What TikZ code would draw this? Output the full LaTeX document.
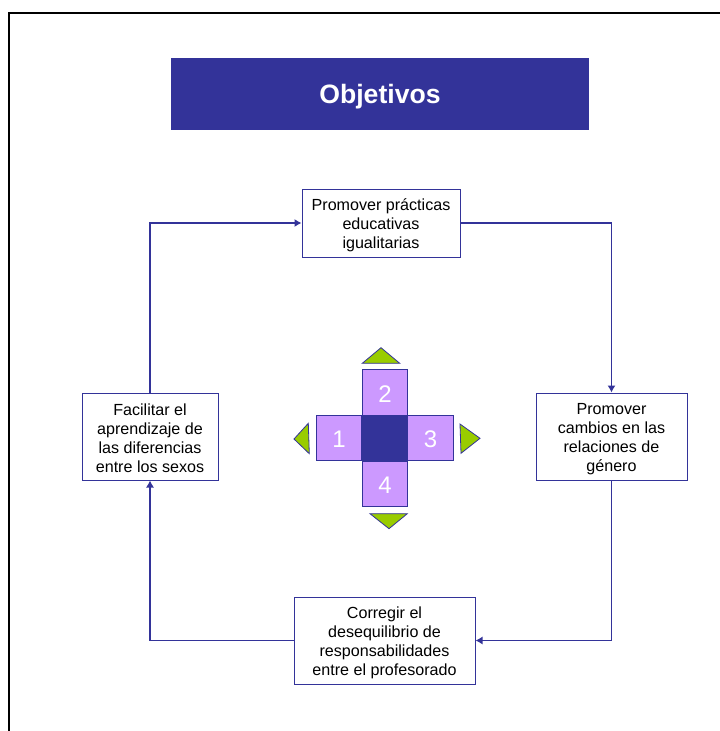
\documentclass[tikz,border=0pt]{standalone}
\usepackage{fontspec}
\setmainfont{Liberation Sans}
\usetikzlibrary{arrows.meta}
\definecolor{navy}{HTML}{333399}
\definecolor{lilac}{HTML}{CC99FF}
\definecolor{leaf}{HTML}{99CC00}
\newcommand{\dropline}{\rule{0pt}{15.5pt}}
\tikzset{
  textbox/.style={draw=navy,fill=white,line width=1pt,align=center,inner sep=0pt,font=\fontsize{16.1}{19}\selectfont,text=black},
  conn/.style={draw=navy,line width=1.1pt,-{Latex[length=7pt,width=8pt]}},
  tile/.style={draw=navy,line width=1pt,fill=lilac,minimum width=45.5pt,minimum height=45.5pt,inner sep=0pt,text=white,text height=19pt,font=\fontsize{24}{24}\selectfont},
  tri/.style={draw=navy,line width=.8pt,fill=leaf,line join=miter}
}
\begin{document}
\begin{tikzpicture}[x=1pt,y=-1pt]
\useasboundingbox (0,0) rectangle (720,731);
\fill[white] (0,0) rectangle (720,731);
\draw[black,line width=2pt] (9,731) -- (9,12.5) -- (720,12.5);
\node[fill=navy,minimum width=418pt,minimum height=72pt,inner sep=0pt,text=white,text height=25.5pt,font=\fontsize{26.6}{30}\selectfont\bfseries] (title) at (380,94) {Objetivos};
\node[textbox,minimum width=158pt,minimum height=68pt] (top) at (381,223) {\dropline Promover prácticas\\educativas\\igualitarias};
\node[textbox,minimum width=151pt,minimum height=87pt] (right) at (611.5,436.5) {\dropline Promover\\cambios en las\\relaciones de\\género};
\node[textbox,minimum width=181pt,minimum height=87pt] (bottom) at (384.5,640.5) {\dropline Corregir el\\desequilibrio de\\responsabilidades\\entre el profesorado};
\node[textbox,minimum width=136pt,minimum height=87pt] (left) at (150,436.5) {\dropline Facilitar el\\aprendizaje de\\las diferencias\\entre los sexos};
\draw[conn] (top.east) -| (right.north);
\draw[conn] (right.south) |- (bottom.east);
\draw[conn] (bottom.west) -| (left.south);
\draw[conn] (left.north) |- (top.west);
\node[tile] (t1) at (339,438) {1};
\node[tile] (t3) at (430.5,438) {3};
\node[tile] (t2) at (385,392.7) {2};
\node[tile] (t4) at (385,484) {4};
\node[tile,fill=navy] (tc) at (385,438) {};
\draw[tri] (362.3,363.3) -- (381,347.7) -- (399.7,363.3) -- cycle;
\draw[tri] (370,513.7) -- (407.3,513.7) -- (389,528.7) -- cycle;
\draw[tri] (308.3,423.3) -- (294,439) -- (309.3,453.7) -- cycle;
\draw[tri] (460,424) -- (480,438.3) -- (461,453.3) -- cycle;
\end{tikzpicture}
\end{document}
